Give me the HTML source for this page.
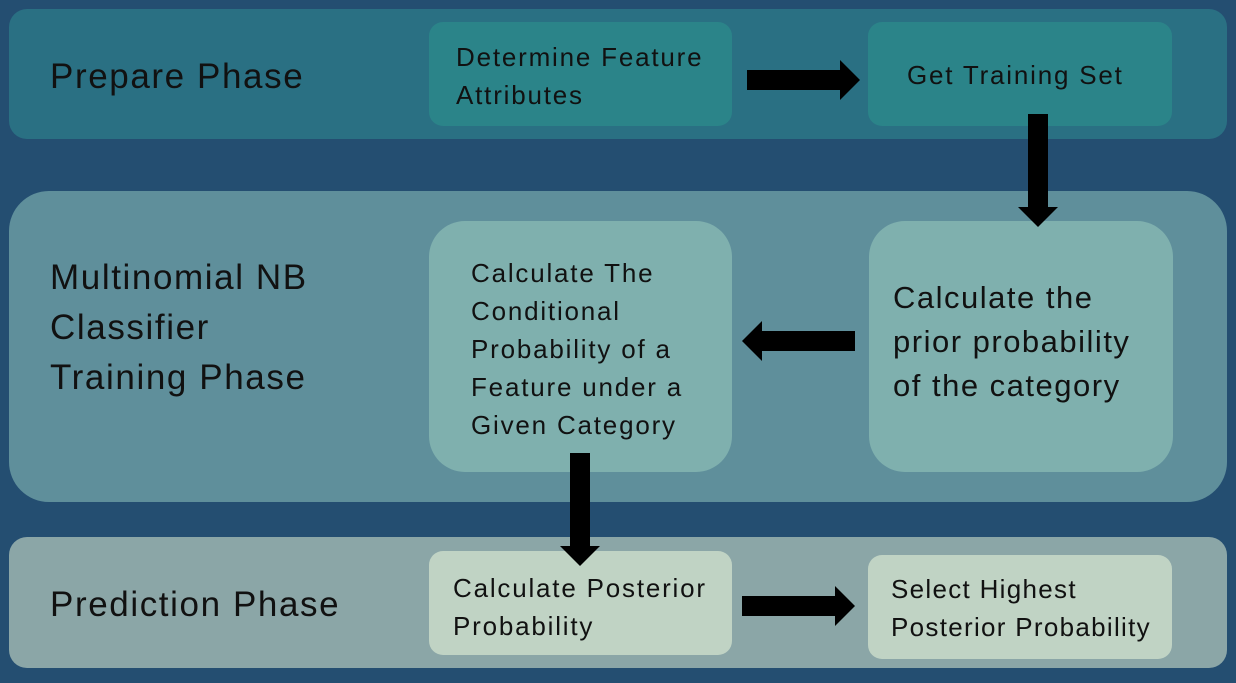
<!DOCTYPE html>
<html><head><style>
body{margin:0;width:1236px;height:683px;background:#244e71;position:relative;overflow:hidden;font-family:"Liberation Sans","DejaVu Sans",sans-serif;color:#111}
.b{position:absolute}
.lbl{position:absolute;font-size:35px;line-height:50px;color:#111;letter-spacing:1.6px;white-space:nowrap}
.box{position:absolute;font-size:26px;line-height:38px;box-sizing:border-box;letter-spacing:1.8px;white-space:nowrap}
</style></head><body>
<div class="b" style="left:9px;top:9px;width:1218px;height:130px;background:#2a7083;border-radius:18px"></div>
<div class="b" style="left:9px;top:191px;width:1218px;height:311px;background:#5f8f9b;border-radius:40px"></div>
<div class="b" style="left:9px;top:537px;width:1218px;height:131px;background:#8ba6a7;border-radius:18px"></div>

<div class="lbl" style="left:50px;top:52px">Prepare Phase</div>
<div class="lbl" style="left:50px;top:253px">Multinomial NB<br>Classifier<br>Training Phase</div>
<div class="lbl" style="left:50px;top:580px">Prediction Phase</div>

<div class="box" style="left:429px;top:22px;width:303px;height:104px;background:#2b8489;border-radius:14px;padding:16px 0 0 27px">Determine Feature<br>Attributes</div>
<div class="box" style="left:868px;top:22px;width:304px;height:104px;background:#2b8489;border-radius:14px;padding:34px 0 0 39px">Get Training Set</div>

<div class="box" style="left:429px;top:221px;width:303px;height:251px;background:#7fb0ae;border-radius:36px;padding:33px 0 0 42px">Calculate The<br>Conditional<br>Probability of a<br>Feature under a<br>Given Category</div>
<div class="box" style="left:869px;top:221px;width:304px;height:251px;background:#7fb0ae;border-radius:36px;padding:55px 0 0 24px;font-size:31px;line-height:44px;letter-spacing:1.5px">Calculate the<br>prior probability<br>of the category</div>

<div class="box" style="left:429px;top:551px;width:303px;height:104px;background:#c0d3c4;border-radius:14px;padding:18px 0 0 24px">Calculate Posterior<br>Probability</div>
<div class="box" style="left:868px;top:555px;width:304px;height:104px;background:#c0d3c4;border-radius:14px;padding:15px 0 0 23px;letter-spacing:1.3px">Select Highest<br>Posterior Probability</div>

<svg class="b" style="left:0;top:0" width="1236" height="683">
<polygon points="747,70 840,70 840,60 860,80 840,100 840,90 747,90" fill="#000"/>
<polygon points="1028,114 1048,114 1048,207 1058,207 1038,227 1018,207 1028,207" fill="#000"/>
<polygon points="855,331 762,331 762,321 742,341 762,361 762,351 855,351" fill="#000"/>
<polygon points="570,453 590,453 590,546 600,546 580,566 560,546 570,546" fill="#000"/>
<polygon points="742,596 835,596 835,586 855,606 835,626 835,616 742,616" fill="#000"/>
</svg>
</body></html>
